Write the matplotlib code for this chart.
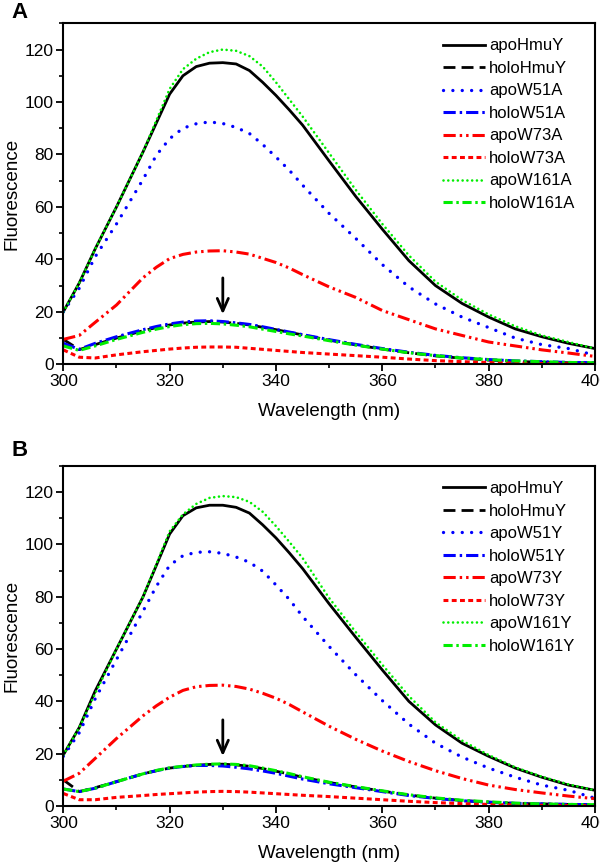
import matplotlib
matplotlib.use("Agg")
import matplotlib.pyplot as plt
from matplotlib.ticker import MultipleLocator

plt.rcParams['font.family'] = ['Liberation Sans', 'DejaVu Sans']

# Wavelength grid (nm)
wavelength = [300, 303, 306, 310, 315, 317.5, 320, 322.5, 325, 327.5, 330,
              332.5, 335, 337.5, 340, 342.5, 345, 350, 355, 360, 365, 370,
              375, 380, 385, 390, 395, 400]

# ---------------- Panel A ----------------
labels_A = ["apoHmuY", "holoHmuY", "apoW51A", "holoW51A",
            "apoW73A", "holoW73A", "apoW161A", "holoW161A"]
apoHmuY_A = [20, 31, 44, 60, 81, 92, 103, 110, 113.5, 114.8, 115,
             114.5, 112, 107.5, 102.5, 97, 91.2, 77.5, 64, 51.5, 39.5, 30,
             23.2, 18, 13.5, 10.5, 8, 6]
holoHmuY_A = [9.5, 5.6, 7.5, 10, 12.8, 14, 15, 15.7, 16.1, 16.3, 16.1,
              15.6, 15, 14.1, 13.2, 12.2, 11.2, 9.2, 7.4, 5.8, 4.4, 3.2,
              2.3, 1.6, 1.1, 0.8, 0.6, 0.5]
apoW51A = [20, 29, 41, 53.5, 70.5, 79.7, 86, 90, 91.7, 92.4, 91.8,
           90.3, 88, 83.8, 79, 74, 68.3, 57.5, 48, 38, 29.5, 23,
           18, 14, 10, 7.5, 6, 3.5]
holoW51A = [8, 5.7, 8, 10.5, 13.2, 14.4, 15.4, 16.1, 16.5, 16.6, 16.3,
            15.8, 15.2, 14.3, 13.3, 12.3, 11.3, 9.4, 7.6, 6, 4.6, 3.4,
            2.5, 1.8, 1.3, 1, 0.7, 0.6]
apoW73A = [9.5, 11, 16, 22.6, 33, 37, 40.3, 41.9, 42.8, 43.2, 43.3,
           42.8, 42, 40.4, 38.8, 36.7, 34.2, 29.5, 25.5, 20.5, 17, 13.5,
           11, 8.5, 7, 5.5, 4.3, 3]
holoW73A = [5.5, 2.7, 2.4, 3.6, 4.8, 5.3, 5.8, 6.2, 6.5, 6.6, 6.6,
            6.5, 6.1, 5.7, 5.3, 4.9, 4.5, 3.9, 3.3, 2.7, 2, 1.4,
            1, 0.7, 0.5, 0.3, 0.2, 0.2]
apoW161A = [20, 31, 44, 60, 81, 93, 105, 112.5, 116.5, 119, 120,
            119.5, 117.5, 113.5, 107.5, 101, 94.5, 80.5, 66.5, 53.5, 41.5, 31.5,
            24.5, 19, 14.5, 11, 8.5, 6]
holoW161A = [7, 5.3, 7, 9.5, 12.2, 13.4, 14.4, 15.1, 15.5, 15.6, 15.4,
             14.9, 14.3, 13.4, 12.5, 11.6, 10.8, 9, 7.3, 5.8, 4.4, 3.3,
             2.4, 1.8, 1.3, 1, 0.7, 0.6]

# ---------------- Panel B ----------------
labels_B = ["apoHmuY", "holoHmuY", "apoW51Y", "holoW51Y",
            "apoW73Y", "holoW73Y", "apoW161Y", "holoW161Y"]
apoHmuY_B = [19.5, 30, 44, 60, 80, 92, 104, 111, 114, 115, 115,
             114.2, 112, 107.5, 102.5, 96.8, 90.8, 77.3, 64.5, 52, 40, 31,
             24, 19, 14.5, 11, 8, 6]
holoHmuY_B = [10, 5.5, 7, 9.3, 12.3, 13.5, 14.5, 15.1, 15.6, 15.9, 16,
              15.7, 15.2, 14.3, 13.3, 12.2, 11, 9, 7.3, 5.7, 4.2, 3,
              2.1, 1.5, 1, 0.8, 0.6, 0.5]
apoW51Y = [19, 28, 41, 56, 74.5, 84, 92, 95.7, 97, 97.2, 96.6,
           95.2, 93.2, 89.8, 84.5, 79, 72.5, 61, 50.2, 40.3, 31.3, 24,
           18.7, 14.5, 11, 8, 6, 3]
holoW51Y = [6.5, 5.5, 6.8, 9.3, 12.3, 13.5, 14.5, 15.1, 15.5, 15.5, 15.3,
            14.8, 14.2, 13.4, 12.5, 11.4, 10.3, 8.5, 7, 5.5, 4, 2.9,
            2, 1.4, 1, 0.8, 0.6, 0.5]
apoW73Y = [9.5, 12.5, 18.2, 25.8, 34.5, 38.3, 41.6, 44.2, 45.6, 46.1, 46.2,
           45.7, 44.7, 43.1, 41.2, 38.8, 36, 30.5, 25.5, 21, 17, 13.5,
           10.5, 8, 6.3, 5, 3.8, 2.8]
holoW73Y = [4.8, 2.4, 2.4, 3.3, 4, 4.4, 4.7, 5, 5.3, 5.5, 5.6,
            5.5, 5.3, 5, 4.7, 4.4, 4.1, 3.6, 3, 2.4, 1.8, 1.3,
            0.9, 0.6, 0.4, 0.3, 0.2, 0.2]
apoW161Y = [19.5, 30, 43, 60, 80, 92.5, 105, 111.5, 115.5, 117.8, 118.5,
            118.1, 116.3, 112.5, 107, 101, 94.8, 79.5, 66.5, 54, 42, 32,
            25, 19.5, 14.8, 11.2, 8.3, 6]
holoW161Y = [6.5, 5.5, 6.8, 9.3, 12.3, 13.6, 14.6, 15.2, 15.7, 16, 16.1,
             15.9, 15.4, 14.5, 13.5, 12.4, 11.2, 9.1, 7.4, 5.8, 4.3, 3.1,
             2.2, 1.6, 1.1, 0.8, 0.6, 0.5]

series_A = [apoHmuY_A, holoHmuY_A, apoW51A, holoW51A,
            apoW73A, holoW73A, apoW161A, holoW161A]
series_B = [apoHmuY_B, holoHmuY_B, apoW51Y, holoW51Y,
            apoW73Y, holoW73Y, apoW161Y, holoW161Y]

GREEN = '#00ee00'
BLUE = '#0000ff'
RED = '#ff0000'
styles = [
    dict(color='black', lw=2.0, ls='-'),
    dict(color='black', lw=2.0, ls=(0, (4.3, 2.2))),
    dict(color=BLUE, lw=2.4, ls=(0, (0.01, 2.8)), dash_capstyle='round'),
    dict(color=BLUE, lw=2.2, ls=(0, (4, 1.3, 0.8, 1.3))),
    dict(color=RED, lw=2.2, ls=(0, (4, 1.3, 0.8, 1.3, 0.8, 1.3))),
    dict(color=RED, lw=2.2, ls=(0, (1.6, 1.1))),
    dict(color=GREEN, lw=1.9, ls=(0, (0.01, 1.8)), dash_capstyle='round'),
    dict(color=GREEN, lw=2.2, ls=(0, (3, 1.2, 0.8, 1.2))),
]

fig = plt.figure(figsize=(6, 8.64), dpi=100)
W, H = 600.0, 864.0
left = 63.3 / W
width = (595 - 63.3) / W
ax_A = fig.add_axes([left, 1 - 364.3 / H, width, (364.3 - 23.3) / H])
ax_B = fig.add_axes([left, 1 - 806.0 / H, width, (806.0 - 466.0) / H])

arrow_x = 330
arrow_top, arrow_tip = 34, 18

for ax, series, labels in [(ax_A, series_A, labels_A), (ax_B, series_B, labels_B)]:
    for vals, lab, st in zip(series, labels, styles):
        ax.plot(wavelength, vals, label=lab, **st)
    ax.set_xlim(300, 400)
    ax.set_ylim(0, 130)
    ax.xaxis.set_major_locator(MultipleLocator(20))
    ax.xaxis.set_minor_locator(MultipleLocator(10))
    ax.yaxis.set_minor_locator(MultipleLocator(10))
    ax.set_yticks([0, 20, 40, 60, 80, 100, 120])
    ax.tick_params(which='major', direction='out', length=5, width=1.3,
                   labelsize=12.5, pad=2)
    ax.tick_params(which='minor', direction='out', length=3, width=1.2)
    for sp in ax.spines.values():
        sp.set_linewidth(1.5)
    ax.set_xlabel('Wavelength (nm)', fontsize=13.5, labelpad=10)
    ax.set_ylabel('Fluorescence', fontsize=13.5, labelpad=3)
    ax.annotate('', xy=(arrow_x, arrow_tip), xytext=(arrow_x, arrow_top),
                arrowprops=dict(arrowstyle='->,head_length=0.9,head_width=0.4',
                                color='black', lw=2))
    ax.legend(loc='upper right', frameon=False, fontsize=12,
              handlelength=2.5, handletextpad=0.25, labelspacing=0.45,
              borderaxespad=0.3, bbox_to_anchor=(0.985, 0.99))

fig.text(19 / W, 1 - 12.5 / H, 'A', fontsize=16, fontweight='bold',
         ha='center', va='center')
fig.text(19.5 / W, 1 - 450 / H, 'B', fontsize=16, fontweight='bold',
         ha='center', va='center')

fig.savefig('out.png', dpi=100)
